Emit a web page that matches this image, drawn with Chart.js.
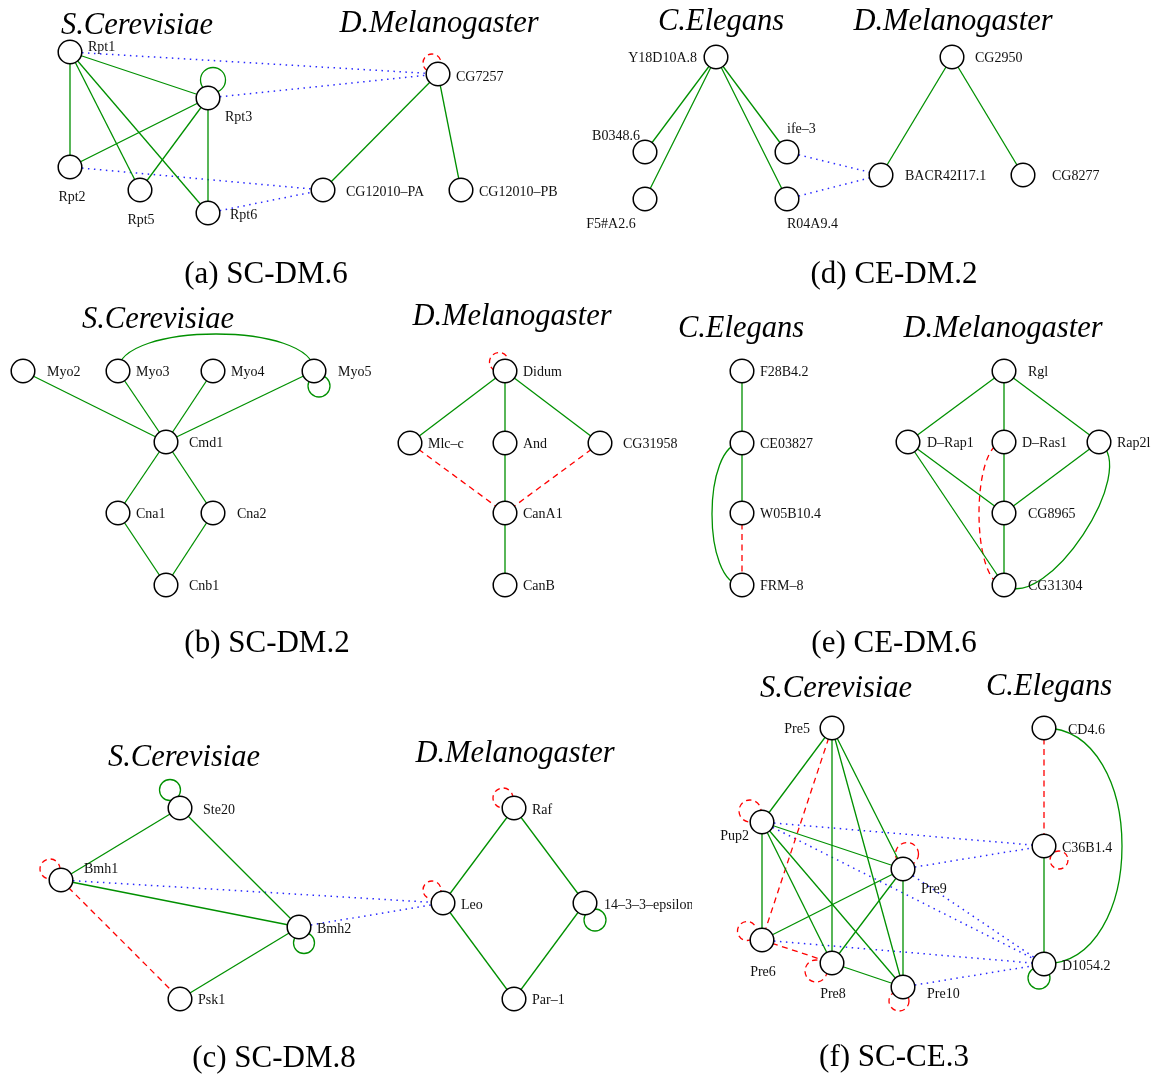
<!DOCTYPE html>
<html>
<head>
<meta charset="utf-8">
<script src="https://cdn.jsdelivr.net/npm/chart.js@4.4.1/dist/chart.umd.min.js"></script>
<style>
  html, body { margin: 0; padding: 0; background: #fff; }
  #wrap { width: 1162px; height: 1077px; }
</style>
</head>
<body>
<div id="wrap"><canvas id="netChart" width="1162" height="1077"></canvas></div>
<script>
// ---- (a) SC-DM.6 ----
const scdm6Nodes = [
    ['Rpt1', 70, 52], ['Rpt3', 208, 98], ['Rpt2', 70, 167], ['Rpt5', 140, 190], ['Rpt6', 208, 213],
    ['CG7257', 438, 74], ['CG12010–PA', 323, 190], ['CG12010–PB', 461, 190]
];
const scdm6Edges = [
    ['Rpt1', 'Rpt2', 'solid'], ['Rpt1', 'Rpt5', 'solid'], ['Rpt1', 'Rpt6', 'solid'], ['Rpt1', 'Rpt3', 'solid'],
    ['Rpt3', 'Rpt2', 'solid'], ['Rpt3', 'Rpt5', 'solid'], ['Rpt3', 'Rpt6', 'solid'],
    ['CG7257', 'CG12010–PA', 'solid'], ['CG7257', 'CG12010–PB', 'solid'],
    ['Rpt1', 'CG7257', 'dotted'], ['Rpt3', 'CG7257', 'dotted'],
    ['Rpt2', 'CG12010–PA', 'dotted'], ['Rpt6', 'CG12010–PA', 'dotted']
];
const scdm6Loops = [['Rpt3', 'solid'], ['CG7257', 'dashed']];

// ---- (d) CE-DM.2 ----
const cedm2Nodes = [
    ['Y18D10A.8', 716, 57], ['B0348.6', 645, 152], ['F5#A2.6', 645, 199], ['ife–3', 787, 152], ['R04A9.4', 787, 199],
    ['CG2950', 952, 57], ['BACR42I17.1', 881, 175], ['CG8277', 1023, 175]
];
const cedm2Edges = [
    ['Y18D10A.8', 'B0348.6', 'solid'], ['Y18D10A.8', 'F5#A2.6', 'solid'],
    ['Y18D10A.8', 'ife–3', 'solid'], ['Y18D10A.8', 'R04A9.4', 'solid'],
    ['CG2950', 'BACR42I17.1', 'solid'], ['CG2950', 'CG8277', 'solid'],
    ['ife–3', 'BACR42I17.1', 'dotted'], ['R04A9.4', 'BACR42I17.1', 'dotted']
];

// ---- (b) SC-DM.2 ----
const scdm2Nodes = [
    ['Myo2', 23, 371], ['Myo3', 118, 371], ['Myo4', 213, 371], ['Myo5', 314, 371],
    ['Cmd1', 166, 442], ['Cna1', 118, 513], ['Cna2', 213, 513], ['Cnb1', 166, 585],
    ['Didum', 505, 371], ['Mlc–c', 410, 443], ['And', 505, 443], ['CG31958', 600, 443],
    ['CanA1', 505, 513], ['CanB', 505, 585]
];
const scdm2Edges = [
    ['Myo2', 'Cmd1', 'solid'], ['Myo3', 'Cmd1', 'solid'], ['Myo4', 'Cmd1', 'solid'], ['Myo5', 'Cmd1', 'solid'],
    ['Cmd1', 'Cna1', 'solid'], ['Cmd1', 'Cna2', 'solid'], ['Cna1', 'Cnb1', 'solid'], ['Cna2', 'Cnb1', 'solid'],
    ['Didum', 'Mlc–c', 'solid'], ['Didum', 'And', 'solid'], ['Didum', 'CG31958', 'solid'],
    ['And', 'CanA1', 'solid'], ['CanA1', 'CanB', 'solid'],
    ['Mlc–c', 'CanA1', 'dashed'], ['CG31958', 'CanA1', 'dashed']
];
const scdm2Arcs = [['Myo3', 'Myo5', 'solid']];
const scdm2Loops = [['Myo5', 'solid'], ['Didum', 'dashed']];

// ---- (e) CE-DM.6 ----
const cedm6Nodes = [
    ['F28B4.2', 742, 371], ['CE03827', 742, 443], ['W05B10.4', 742, 513], ['FRM–8', 742, 585],
    ['Rgl', 1004, 371], ['D–Rap1', 908, 442], ['D–Ras1', 1004, 442], ['Rap2l', 1099, 442],
    ['CG8965', 1004, 513], ['CG31304', 1004, 585]
];
const cedm6Edges = [
    ['F28B4.2', 'CE03827', 'solid'], ['CE03827', 'W05B10.4', 'solid'], ['W05B10.4', 'FRM–8', 'dashed'],
    ['Rgl', 'D–Rap1', 'solid'], ['Rgl', 'D–Ras1', 'solid'], ['Rgl', 'Rap2l', 'solid'],
    ['D–Rap1', 'CG8965', 'solid'], ['D–Rap1', 'CG31304', 'solid'], ['D–Ras1', 'CG8965', 'solid'],
    ['Rap2l', 'CG8965', 'solid'], ['CG8965', 'CG31304', 'solid']
];
const cedm6Arcs = [['CE03827', 'FRM–8', 'solid'], ['Rap2l', 'CG31304', 'solid'], ['D–Ras1', 'CG31304', 'dashed']];

// ---- (c) SC-DM.8 ----
const scdm8Nodes = [
    ['Ste20', 180, 808], ['Bmh1', 61, 880], ['Bmh2', 299, 927], ['Psk1', 180, 999],
    ['Raf', 514, 808], ['Leo', 443, 903], ['14–3–3–epsilon', 585, 903], ['Par–1', 514, 999]
];
const scdm8Edges = [
    ['Bmh1', 'Ste20', 'solid'], ['Ste20', 'Bmh2', 'solid'], ['Bmh1', 'Bmh2', 'solid'], ['Psk1', 'Bmh2', 'solid'],
    ['Raf', 'Leo', 'solid'], ['Raf', '14–3–3–epsilon', 'solid'], ['Leo', 'Par–1', 'solid'], ['14–3–3–epsilon', 'Par–1', 'solid'],
    ['Bmh1', 'Psk1', 'dashed'], ['Bmh1', 'Leo', 'dotted'], ['Bmh2', 'Leo', 'dotted']
];
const scdm8Loops = [
    ['Ste20', 'solid'], ['Bmh1', 'dashed'], ['Bmh2', 'solid'],
    ['Raf', 'dashed'], ['Leo', 'dashed'], ['14–3–3–epsilon', 'solid']
];

// ---- (f) SC-CE.3 ----
const scce3Nodes = [
    ['Pre5', 832, 728], ['Pup2', 762, 822], ['Pre9', 903, 869], ['Pre6', 762, 940], ['Pre8', 832, 963], ['Pre10', 903, 987],
    ['CD4.6', 1044, 728], ['C36B1.4', 1044, 846], ['D1054.2', 1044, 964]
];
const scce3Edges = [
    ['Pre5', 'Pup2', 'solid'], ['Pre5', 'Pre8', 'solid'], ['Pre5', 'Pre10', 'solid'], ['Pre5', 'Pre9', 'solid'],
    ['Pup2', 'Pre6', 'solid'], ['Pup2', 'Pre8', 'solid'], ['Pup2', 'Pre10', 'solid'], ['Pup2', 'Pre9', 'solid'],
    ['Pre9', 'Pre6', 'solid'], ['Pre9', 'Pre8', 'solid'], ['Pre9', 'Pre10', 'solid'], ['Pre8', 'Pre10', 'solid'],
    ['C36B1.4', 'D1054.2', 'solid'],
    ['Pre5', 'Pre6', 'dashed'], ['Pre6', 'Pre8', 'dashed'], ['CD4.6', 'C36B1.4', 'dashed'],
    ['Pup2', 'C36B1.4', 'dotted'], ['Pup2', 'D1054.2', 'dotted'], ['Pre9', 'C36B1.4', 'dotted'],
    ['Pre9', 'D1054.2', 'dotted'], ['Pre6', 'D1054.2', 'dotted'], ['Pre10', 'D1054.2', 'dotted']
];
const scce3Arcs = [['CD4.6', 'D1054.2', 'solid']];
const scce3Loops = [
    ['Pup2', 'dashed'], ['Pre9', 'dashed'], ['Pre6', 'dashed'], ['Pre8', 'dashed'],
    ['Pre10', 'dashed'], ['C36B1.4', 'dashed'], ['D1054.2', 'solid']
];

// ---- layout: species headings and sub-captions ----
const headings = [
    ['S.Cerevisiae', 137, 34], ['D.Melanogaster', 439, 32],
    ['C.Elegans', 721, 30], ['D.Melanogaster', 953, 30],
    ['S.Cerevisiae', 158, 328], ['D.Melanogaster', 512, 325],
    ['C.Elegans', 741, 337], ['D.Melanogaster', 1003, 337],
    ['S.Cerevisiae', 184, 766], ['D.Melanogaster', 515, 762],
    ['S.Cerevisiae', 836, 697], ['C.Elegans', 1049, 695]
];
const captions = [
    ['(a) SC-DM.6', 266, 283], ['(d) CE-DM.2', 894, 283],
    ['(b) SC-DM.2', 267, 652], ['(e) CE-DM.6', 894, 652],
    ['(c) SC-DM.8', 274, 1067], ['(f) SC-CE.3', 894, 1066]
];

// label offsets from node centre: dx, dy, alignment
const labelSpots = {
    'Rpt1': [18, -5, 'left'], 'Rpt3': [17, 19, 'left'], 'Rpt2': [2, 30, 'center'], 'Rpt5': [1, 30, 'center'],
    'Rpt6': [22, 2, 'left'], 'CG7257': [18, 3, 'left'], 'CG12010–PA': [23, 2, 'left'], 'CG12010–PB': [18, 2, 'left'],
    'Y18D10A.8': [-19, 1, 'right'], 'B0348.6': [-29, -16, 'center'], 'F5#A2.6': [-34, 25, 'center'],
    'ife–3': [0, -23, 'left'], 'R04A9.4': [0, 25, 'left'],
    'CG2950': [23, 1, 'left'], 'BACR42I17.1': [24, 1, 'left'], 'CG8277': [29, 1, 'left'],
    'Myo2': [24, 1, 'left'], 'Myo3': [18, 1, 'left'], 'Myo4': [18, 1, 'left'], 'Myo5': [24, 1, 'left'],
    'Cmd1': [23, 1, 'left'], 'Cna1': [18, 1, 'left'], 'Cna2': [24, 1, 'left'], 'Cnb1': [23, 1, 'left'],
    'Didum': [18, 1, 'left'], 'Mlc–c': [18, 1, 'left'], 'And': [18, 1, 'left'], 'CG31958': [23, 1, 'left'],
    'CanA1': [18, 1, 'left'], 'CanB': [18, 1, 'left'],
    'F28B4.2': [18, 1, 'left'], 'CE03827': [18, 1, 'left'], 'W05B10.4': [18, 1, 'left'], 'FRM–8': [18, 1, 'left'],
    'Rgl': [24, 1, 'left'], 'D–Rap1': [19, 1, 'left'], 'D–Ras1': [18, 1, 'left'], 'Rap2l': [18, 1, 'left'],
    'CG8965': [24, 1, 'left'], 'CG31304': [24, 1, 'left'],
    'Ste20': [23, 2, 'left'], 'Bmh1': [23, -11, 'left'], 'Bmh2': [18, 2, 'left'], 'Psk1': [18, 1, 'left'],
    'Raf': [18, 2, 'left'], 'Leo': [18, 2, 'left'], '14–3–3–epsilon': [19, 2, 'left'], 'Par–1': [18, 1, 'left'],
    'Pre5': [-22, 1, 'right'], 'Pup2': [-13, 14, 'right'], 'Pre9': [18, 20, 'left'], 'Pre6': [1, 32, 'center'],
    'Pre8': [1, 31, 'center'], 'Pre10': [24, 7, 'left'],
    'CD4.6': [24, 2, 'left'], 'C36B1.4': [18, 2, 'left'], 'D1054.2': [18, 2, 'left']
};
// right edge where a label gets cut off by its sub-figure
const labelClip = { '14–3–3–epsilon': 692 };

// self-loop circle: centre offset from node, radius
const loopSpots = {
    'Rpt3': [5, -18, 12.5], 'CG7257': [-6, -11, 9], 'Myo5': [5, 15, 11], 'Didum': [-6, -9, 9.5],
    'Ste20': [-10, -18, 10.5], 'Bmh1': [-11, -11, 10], 'Bmh2': [5, 16, 10.5], 'Raf': [-11, -10, 10],
    'Leo': [-11, -13, 9], '14–3–3–epsilon': [10, 17, 11],
    'Pup2': [-12, -11, 11], 'Pre9': [4, -15, 11.5], 'Pre6': [-15, -9, 9.5], 'Pre8': [-16, 8, 11],
    'Pre10': [-4, 14, 10], 'C36B1.4': [15, 14, 9], 'D1054.2': [-5, 14, 11]
};
// how far each curved edge bows away from the straight line (sign = side)
const arcBulge = {
    'Myo3|Myo5': -37, 'CE03827|FRM–8': 30, 'Rap2l|CG31304': -38, 'D–Ras1|CG31304': 25, 'CD4.6|D1054.2': -78
};

const edgeStyles = {
    solid: { color: 'rgb(0,144,0)', width: 1.3, dash: [] },
    dotted: { color: 'rgb(40,40,255)', width: 1.5, dash: [1.5, 4.5] },
    dashed: { color: 'rgb(255,0,0)', width: 1.3, dash: [6, 4.5] }
};

const allNodes = [].concat(scdm6Nodes, cedm2Nodes, scdm2Nodes, cedm6Nodes, scdm8Nodes, scce3Nodes);
const allEdges = [].concat(scdm6Edges, cedm2Edges, scdm2Edges, cedm6Edges, scdm8Edges, scce3Edges);
const allArcs = [].concat(scdm2Arcs, cedm6Arcs, scce3Arcs);
const allLoops = [].concat(scdm6Loops, scdm2Loops, scdm8Loops, scce3Loops);

const pos = {};
allNodes.forEach(([name, x, y]) => { pos[name] = { x, y }; });

function edgeDataset(a, b, kind) {
    const s = edgeStyles[kind];
    return {
        data: [{ x: pos[a].x, y: pos[a].y }, { x: pos[b].x, y: pos[b].y }],
        showLine: true,
        borderColor: s.color,
        borderWidth: s.width,
        borderDash: s.dash,
        pointRadius: 0,
        pointHoverRadius: 0,
        order: 2
    };
}

const datasets = [{
    label: 'proteins',
    data: allNodes.map(([name, x, y]) => ({ x, y, name })),
    showLine: false,
    pointRadius: 11.8,
    pointHoverRadius: 11.8,
    pointBackgroundColor: '#fff',
    pointBorderColor: '#000',
    pointBorderWidth: 1.5,
    pointHoverBorderWidth: 1.5,
    order: 0
}].concat(allEdges.map(([a, b, kind]) => edgeDataset(a, b, kind)));

// arcs, self loops and all the text
const netExtras = {
    id: 'netExtras',
    beforeDatasetsDraw(chart) {
        const ctx = chart.ctx;
        const sx = chart.scales.x, sy = chart.scales.y;
        const px = p => ({ x: sx.getPixelForValue(p.x), y: sy.getPixelForValue(p.y) });
        ctx.save();
        allArcs.forEach(([a, b, kind]) => {
            const s = edgeStyles[kind];
            const A = px(pos[a]), B = px(pos[b]);
            const dx = B.x - A.x, dy = B.y - A.y, len = Math.hypot(dx, dy);
            const nx = -dy / len, ny = dx / len;
            const k = arcBulge[a + '|' + b] / 0.75;
            ctx.beginPath();
            ctx.strokeStyle = s.color;
            ctx.lineWidth = s.width;
            ctx.setLineDash(s.dash);
            ctx.moveTo(A.x, A.y);
            ctx.bezierCurveTo(A.x + nx * k, A.y + ny * k, B.x + nx * k, B.y + ny * k, B.x, B.y);
            ctx.stroke();
        });
        allLoops.forEach(([n, kind]) => {
            const s = edgeStyles[kind];
            const [ox, oy, r] = loopSpots[n];
            const c = px(pos[n]);
            ctx.beginPath();
            ctx.strokeStyle = s.color;
            ctx.lineWidth = s.width;
            ctx.setLineDash(kind === 'dashed' ? [5.5, 4] : []);
            ctx.arc(c.x + ox, c.y + oy, r, 0, Math.PI * 2);
            ctx.stroke();
        });
        ctx.restore();
    },
    afterDatasetsDraw(chart) {
        const ctx = chart.ctx;
        const sx = chart.scales.x, sy = chart.scales.y;
        ctx.save();
        ctx.fillStyle = '#111';
        ctx.textBaseline = 'middle';
        ctx.font = '14px "Liberation Serif", "Times New Roman", serif';
        allNodes.forEach(([name]) => {
            const [dx, dy, align] = labelSpots[name];
            const x = sx.getPixelForValue(pos[name].x) + dx;
            const y = sy.getPixelForValue(pos[name].y) + dy;
            ctx.save();
            if (labelClip[name]) {
                ctx.beginPath();
                ctx.rect(0, 0, labelClip[name], chart.height);
                ctx.clip();
            }
            ctx.textAlign = align;
            ctx.fillText(name, x, y);
            ctx.restore();
        });
        ctx.textAlign = 'center';
        ctx.textBaseline = 'alphabetic';
        ctx.fillStyle = '#000';
        ctx.font = 'italic 30.5px "Liberation Serif", "Times New Roman", serif';
        headings.forEach(([t, x, y]) => ctx.fillText(t, x, y));
        ctx.font = '31px "Liberation Serif", "Times New Roman", serif';
        captions.forEach(([t, x, y]) => ctx.fillText(t, x, y));
        ctx.restore();
    }
};

new Chart(document.getElementById('netChart'), {
    type: 'scatter',
    data: { datasets },
    options: {
        responsive: false,
        animation: false,
        layout: { padding: 0, autoPadding: false },
        events: [],
        scales: {
            x: { type: 'linear', min: 0, max: 1162, display: false },
            y: { type: 'linear', min: 0, max: 1077, reverse: true, display: false }
        },
        plugins: {
            legend: { display: false },
            tooltip: { enabled: false }
        }
    },
    plugins: [netExtras]
});
</script>
</body>
</html>
